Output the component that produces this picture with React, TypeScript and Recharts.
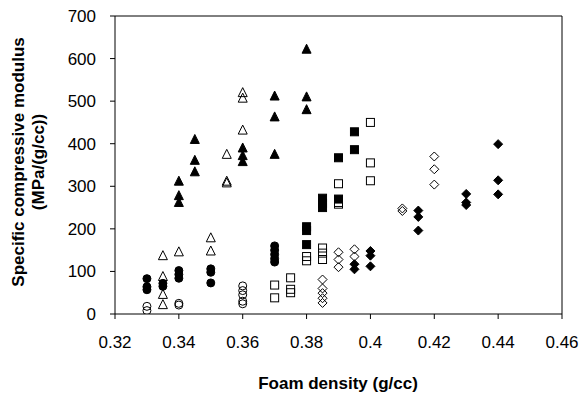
import React from "react";
import { ScatterChart, Scatter, XAxis, YAxis, ReferenceLine } from "recharts";

const xTicks = [0.32, 0.34, 0.36, 0.38, 0.4, 0.42, 0.44, 0.46];
const yTicks = [0, 100, 200, 300, 400, 500, 600, 700];

const filledCircles = [
  { x: 0.33, y: 83 }, { x: 0.33, y: 64 }, { x: 0.33, y: 57 },
  { x: 0.335, y: 72 }, { x: 0.335, y: 65 },
  { x: 0.34, y: 102 }, { x: 0.34, y: 93 }, { x: 0.34, y: 84 },
  { x: 0.35, y: 106 }, { x: 0.35, y: 98 }, { x: 0.35, y: 73 },
  { x: 0.37, y: 160 }, { x: 0.37, y: 150 }, { x: 0.37, y: 140 }, { x: 0.37, y: 130 }, { x: 0.37, y: 122 },
];
const openCircles = [
  { x: 0.33, y: 18 }, { x: 0.33, y: 8 },
  { x: 0.34, y: 25 }, { x: 0.34, y: 21 },
  { x: 0.36, y: 66 }, { x: 0.36, y: 55 }, { x: 0.36, y: 45 }, { x: 0.36, y: 30 }, { x: 0.36, y: 24 },
];
const filledTriangles = [
  { x: 0.34, y: 312 }, { x: 0.34, y: 278 }, { x: 0.34, y: 262 },
  { x: 0.345, y: 410 }, { x: 0.345, y: 361 }, { x: 0.345, y: 334 },
  { x: 0.36, y: 390 }, { x: 0.36, y: 372 }, { x: 0.36, y: 358 },
  { x: 0.37, y: 512 }, { x: 0.37, y: 463 }, { x: 0.37, y: 375 },
  { x: 0.38, y: 622 }, { x: 0.38, y: 510 }, { x: 0.38, y: 480 },
];
const openTriangles = [
  { x: 0.335, y: 137 }, { x: 0.335, y: 88 }, { x: 0.335, y: 46 }, { x: 0.335, y: 22 },
  { x: 0.34, y: 146 },
  { x: 0.35, y: 179 }, { x: 0.35, y: 148 },
  { x: 0.355, y: 375 }, { x: 0.355, y: 312 }, { x: 0.355, y: 308 },
  { x: 0.36, y: 520 }, { x: 0.36, y: 507 }, { x: 0.36, y: 432 },
];
const filledSquares = [
  { x: 0.38, y: 205 }, { x: 0.38, y: 196 }, { x: 0.38, y: 163 },
  { x: 0.385, y: 272 }, { x: 0.385, y: 260 }, { x: 0.385, y: 250 },
  { x: 0.39, y: 367 }, { x: 0.39, y: 270 },
  { x: 0.395, y: 428 }, { x: 0.395, y: 386 },
];
const openSquares = [
  { x: 0.37, y: 68 }, { x: 0.37, y: 38 },
  { x: 0.375, y: 85 }, { x: 0.375, y: 58 }, { x: 0.375, y: 50 },
  { x: 0.38, y: 135 }, { x: 0.38, y: 125 },
  { x: 0.385, y: 155 }, { x: 0.385, y: 143 }, { x: 0.385, y: 128 },
  { x: 0.39, y: 306 }, { x: 0.39, y: 262 }, { x: 0.39, y: 258 },
  { x: 0.4, y: 450 }, { x: 0.4, y: 355 }, { x: 0.4, y: 313 },
];
const openDiamonds = [
  { x: 0.385, y: 81 }, { x: 0.385, y: 60 }, { x: 0.385, y: 49 }, { x: 0.385, y: 37 }, { x: 0.385, y: 26 },
  { x: 0.39, y: 145 }, { x: 0.39, y: 128 }, { x: 0.39, y: 110 },
  { x: 0.395, y: 152 }, { x: 0.395, y: 135 },
  { x: 0.41, y: 248 }, { x: 0.41, y: 242 },
  { x: 0.42, y: 370 }, { x: 0.42, y: 340 }, { x: 0.42, y: 304 },
];
const filledDiamonds = [
  { x: 0.395, y: 117 }, { x: 0.395, y: 105 },
  { x: 0.4, y: 148 }, { x: 0.4, y: 137 }, { x: 0.4, y: 112 },
  { x: 0.415, y: 243 }, { x: 0.415, y: 228 }, { x: 0.415, y: 196 },
  { x: 0.43, y: 282 }, { x: 0.43, y: 262 }, { x: 0.43, y: 256 },
  { x: 0.44, y: 399 }, { x: 0.44, y: 314 }, { x: 0.44, y: 281 },
];

const FONT = "'Liberation Sans', Arial, sans-serif";

const circle = (filled: boolean) => (p: any) => (
  <circle cx={p.cx} cy={p.cy} r={4} fill={filled ? "#000" : "none"} stroke="#000" strokeWidth={1} />
);
const triangle = (filled: boolean) => (p: any) => (
  <path
    d={`M${p.cx},${p.cy - 5} L${p.cx + 4.5},${p.cy + 4} L${p.cx - 4.5},${p.cy + 4} Z`}
    fill={filled ? "#000" : "none"}
    stroke="#000"
    strokeWidth={1}
  />
);
const square = (filled: boolean) => (p: any) => (
  <rect x={p.cx - 4} y={p.cy - 4} width={8} height={8} fill={filled ? "#000" : "none"} stroke="#000" strokeWidth={1} />
);
const diamond = (filled: boolean) => (p: any) => (
  <path
    d={`M${p.cx},${p.cy - 4.5} L${p.cx + 4.5},${p.cy} L${p.cx},${p.cy + 4.5} L${p.cx - 4.5},${p.cy} Z`}
    fill={filled ? "#000" : "none"}
    stroke="#000"
    strokeWidth={1}
  />
);

const YLabel = () => (
  <g fontFamily={FONT} fontWeight="bold" fontSize={17} fill="#000">
    <text x={0} y={0} transform="translate(24,162) rotate(-90)" textAnchor="middle">
      Specific compressive modulus
    </text>
    <text x={0} y={0} transform="translate(44,162) rotate(-90)" textAnchor="middle">
      (MPa/(g/cc))
    </text>
  </g>
);

export default function App() {
  return (
    <div style={{ position: "absolute", left: 0, top: 0, background: "#fff" }}>
      <ScatterChart width={584} height={396} margin={{ top: 16, right: 22, bottom: 32, left: 55 }}>
        <XAxis
          type="number"
          dataKey="x"
          domain={[0.32, 0.46]}
          ticks={xTicks}
          tickFormatter={(v: number) => String(v)}
          height={50}
          stroke="#000"
          tickSize={5}
          tickMargin={17}
          tick={{ fill: "#000", fontSize: 17, fontFamily: FONT }}
          allowDataOverflow
          label={{
            content: () => (
              <text x={338} y={389} textAnchor="middle" fontFamily={FONT} fontWeight="bold" fontSize={17} fill="#000">
                Foam density (g/cc)
              </text>
            ),
          }}
        />
        <YAxis
          type="number"
          dataKey="y"
          domain={[0, 700]}
          ticks={yTicks}
          width={60}
          stroke="#000"
          tickSize={5}
          tickMargin={14}
          tick={{ fill: "#000", fontSize: 17, fontFamily: FONT }}
          allowDataOverflow
          label={{ content: () => <YLabel /> }}
        />
        <ReferenceLine y={700} stroke="#000" strokeWidth={1} />
        <ReferenceLine x={0.46} stroke="#000" strokeWidth={1} />
        <Scatter data={filledCircles} shape={circle(true)} isAnimationActive={false} />
        <Scatter data={openCircles} shape={circle(false)} isAnimationActive={false} />
        <Scatter data={filledTriangles} shape={triangle(true)} isAnimationActive={false} />
        <Scatter data={openTriangles} shape={triangle(false)} isAnimationActive={false} />
        <Scatter data={filledSquares} shape={square(true)} isAnimationActive={false} />
        <Scatter data={openSquares} shape={square(false)} isAnimationActive={false} />
        <Scatter data={openDiamonds} shape={diamond(false)} isAnimationActive={false} />
        <Scatter data={filledDiamonds} shape={diamond(true)} isAnimationActive={false} />
      </ScatterChart>
    </div>
  );
}
